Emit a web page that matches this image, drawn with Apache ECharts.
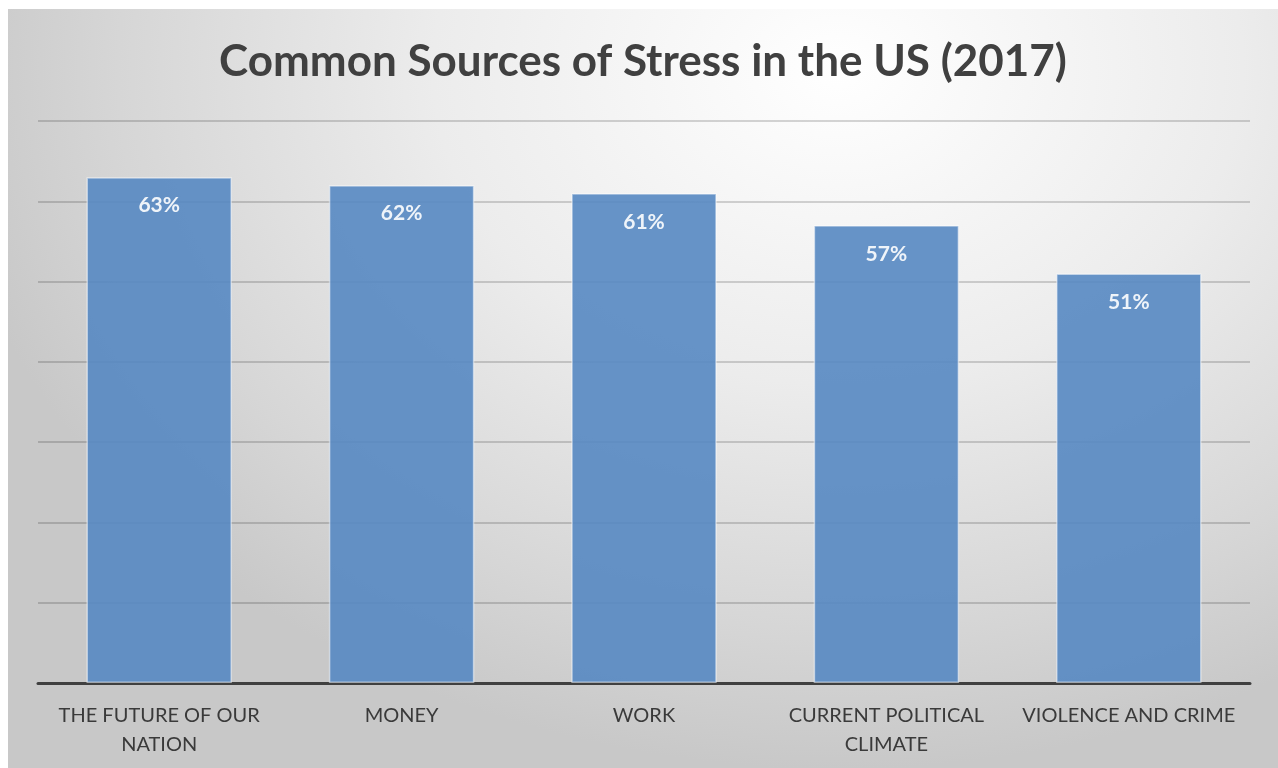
<!DOCTYPE html>
<html>
<head>
<meta charset="utf-8">
<script src="https://cdn.jsdelivr.net/npm/echarts@6/dist/echarts.min.js"></script>
<style>
html,body{margin:0;padding:0;background:#ffffff;width:1278px;height:768px;overflow:hidden;}
#frame{position:absolute;left:8px;top:9px;width:1270px;height:759px;
background:radial-gradient(ellipse 900px 700px at 830px 60px,#ffffff 0%,#ececec 45%,#d6d6d6 80%,#c8c8c8 100%);}
#chart{width:1270px;height:759px;}
</style>
</head>
<body>
<div id="frame"><div id="chart"></div></div>
<script>
const titleText = 'Common Sources of Stress in the US (2017)';
const categories = ['THE FUTURE OF OUR\nNATION', 'MONEY', 'WORK', 'CURRENT POLITICAL\nCLIMATE', 'VIOLENCE AND CRIME'];
const values = [63, 62, 61, 57, 51];
const yTicks = [0, 10, 20, 30, 40, 50, 60, 70];

const chart = echarts.init(document.getElementById('chart'), null, {renderer: 'canvas'});
chart.setOption({
  backgroundColor: 'transparent',
  animation: false,
  title: {
    text: titleText,
    left: 'center',
    top: 26,
    textStyle: {fontFamily: 'Lato', fontWeight: 'bold', fontSize: 44, color: '#404040'}
  },
  grid: {left: 30, top: 112, width: 1212, height: 562, containLabel: false},
  xAxis: {
    type: 'category',
    data: categories,
    axisLine: {show: true, lineStyle: {color: '#404040', width: 3}},
    axisTick: {show: false},
    axisLabel: {fontFamily: 'Lato', fontSize: 20, color: '#3a3a3a', lineHeight: 29, margin: 18, interval: 0}
  },
  yAxis: {
    type: 'value',
    min: yTicks[0],
    max: yTicks[yTicks.length - 1],
    interval: 10,
    axisLine: {show: false},
    axisTick: {show: false},
    axisLabel: {show: false},
    splitLine: {show: true, lineStyle: {color: 'rgba(0,0,0,0.16)', width: 2}}
  },
  series: [{
    type: 'bar',
    data: values,
    barWidth: '60%',
    itemStyle: {color: '#5688c2', opacity: 0.9, borderColor: 'rgba(255,255,255,0.55)', borderWidth: 1.5},
    label: {
      show: true,
      position: 'insideTop',
      distance: 18,
      formatter: '{c}%',
      fontFamily: 'Lato',
      fontWeight: 'bold',
      fontSize: 21,
      color: '#ffffff'
    }
  }]
});
</script>
</body>
</html>
